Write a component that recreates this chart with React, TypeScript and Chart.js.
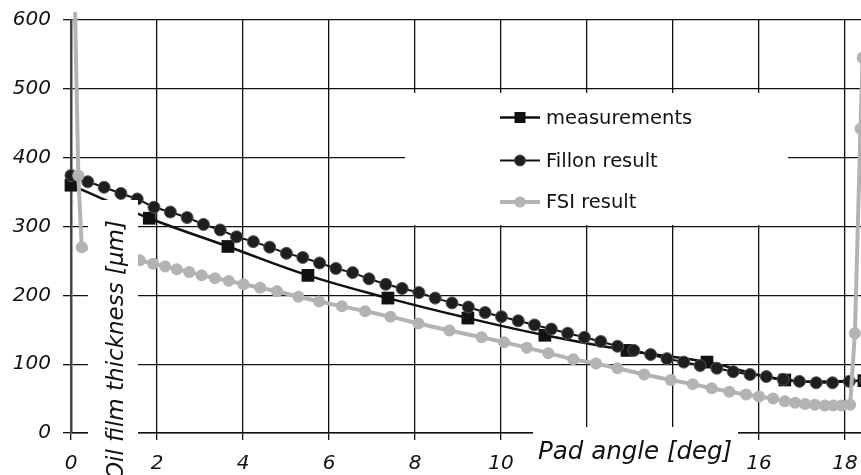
import React, { useEffect, useRef } from 'react';
import { Chart, registerables } from 'chart.js';

Chart.register(...registerables);

// ---- tick labels ----
const xTickValues = [0, 2, 4, 6, 8, 10, 12, 14, 16, 18];
const yTickValues = [0, 100, 200, 300, 400, 500, 600];

// ---- series: measurements ----
const measX = [0, 1.82, 3.65, 5.51, 7.37, 9.23, 11.02, 12.93, 14.79, 16.6, 18.44];
const measY = [360, 312, 271, 229, 196, 167, 142, 120, 103, 77, 76];

// ---- series: Fillon result ----
const fillonX = [
  0, 0.39, 0.77, 1.16, 1.54, 1.93, 2.31, 2.7, 3.08, 3.47, 3.85, 4.24, 4.62, 5.01, 5.39, 5.78,
  6.16, 6.55, 6.93, 7.32, 7.7, 8.09, 8.47, 8.86, 9.24, 9.63, 10.01, 10.4, 10.78, 11.17, 11.55,
  11.94, 12.32, 12.71, 13.09, 13.48, 13.86, 14.25, 14.63, 15.02, 15.4, 15.79, 16.17, 16.56,
  16.94, 17.33, 17.71, 18.1, 18.48,
];
const fillonY = [
  374, 365, 357, 348, 340, 328, 321, 313, 303, 295, 285, 278, 270, 261, 255, 247,
  239, 233, 224, 216, 210, 204, 196, 189, 183, 175, 169, 163, 157, 151, 145,
  139, 133, 126, 120, 114, 108, 103, 98, 94, 89, 85, 82, 78,
  75, 73, 73, 75, 77,
];

// ---- series: FSI result ----
const fsiX = [
  0.02, 0.17, 0.25, 1.6, 1.91, 2.19, 2.46, 2.75, 3.04, 3.35, 3.67, 4.01, 4.4, 4.79, 5.29, 5.77,
  6.3, 6.84, 7.43, 8.08, 8.8, 9.55, 10.07, 10.6, 11.1, 11.68, 12.21, 12.71, 13.33, 13.95,
  14.46, 14.9, 15.31, 15.7, 16.0, 16.33, 16.6, 16.84, 17.07, 17.3, 17.53, 17.73, 17.92,
  18.12, 18.23, 18.36, 18.41,
];
const fsiY = [
  850, 374, 270, 251, 246, 242, 238, 234, 229, 225, 221, 216, 211, 206, 198, 191,
  184, 177, 169, 159, 149, 139, 132, 124, 116, 107, 101, 94, 85, 77,
  71, 65, 60, 56, 53, 50, 46, 44, 42, 41, 40, 40, 40,
  41, 145, 442, 545,
];

const seriesLabels = ['measurements', 'Fillon result', 'FSI result'];
const xTitle = 'Pad angle [deg]';
const yTitle = 'Oil film thickness [µm]';

const toPts = (xs: number[], ys: number[]) => xs.map((x, i) => ({ x, y: ys[i] }));

const FONT = '"DejaVu Sans", Verdana, sans-serif';

const overlayPlugin = {
  id: 'overlay',
  afterDraw(chart: any) {
    const ctx: CanvasRenderingContext2D = chart.ctx;
    ctx.save();
    // white boxes (legend, axis titles)
    ctx.fillStyle = '#ffffff';
    ctx.fillRect(405, 93, 383, 132);
    ctx.fillRect(88, 200, 50, 280);
    ctx.fillRect(533, 427, 205, 50);

    // legend
    const rowsY = [117.5, 160.5, 202];
    const ds = chart.data.datasets;
    rowsY.forEach((y, i) => {
      const d = ds[i];
      ctx.strokeStyle = d.borderColor;
      ctx.lineWidth = d.borderWidth;
      ctx.beginPath();
      ctx.moveTo(500, y);
      ctx.lineTo(540, y);
      ctx.stroke();
      ctx.fillStyle = d.pointBackgroundColor;
      if (d.pointStyle === 'rect') {
        ctx.fillRect(520 - 5.5, y - 5.5, 11, 11);
      } else {
        ctx.beginPath();
        ctx.arc(520, y, 5.5, 0, Math.PI * 2);
        ctx.fill();
        if (d.pointBorderWidth) {
          ctx.strokeStyle = d.pointBorderColor;
          ctx.lineWidth = d.pointBorderWidth;
          ctx.stroke();
        }
      }
      ctx.fillStyle = '#111';
      ctx.font = `19.5px ${FONT}`;
      ctx.textAlign = 'left';
      ctx.textBaseline = 'middle';
      ctx.fillText(d.label, 546, y + 1);
    });

    // x axis title
    ctx.fillStyle = '#111';
    ctx.font = `italic 24.5px ${FONT}`;
    ctx.textAlign = 'left';
    ctx.textBaseline = 'alphabetic';
    ctx.fillText(xTitle, 538, 459);

    // y axis title
    ctx.save();
    ctx.translate(123, 220);
    ctx.rotate(-Math.PI / 2);
    ctx.font = `italic 23px ${FONT}`;
    ctx.textAlign = 'right';
    ctx.textBaseline = 'alphabetic';
    ctx.fillText(yTitle, 0, 0);
    ctx.restore();

    ctx.restore();
  },
};

export default function App() {
  const canvasRef = useRef<HTMLCanvasElement | null>(null);

  useEffect(() => {
    if (!canvasRef.current) return;
    const clip = { left: 15, top: 8, right: 0, bottom: 15 };
    const chart = new Chart(canvasRef.current, {
      type: 'scatter',
      data: {
        datasets: [
          {
            label: seriesLabels[0],
            data: toPts(measX, measY),
            showLine: true,
            tension: 0.4,
            borderColor: '#111111',
            borderWidth: 2.5,
            pointStyle: 'rect',
            pointRadius: 9,
            pointBackgroundColor: '#111111',
            pointBorderWidth: 0,
            pointBorderColor: '#111111',
            order: 3,
            clip,
          } as any,
          {
            label: seriesLabels[1],
            data: toPts(fillonX, fillonY),
            showLine: true,
            tension: 0,
            borderColor: '#111111',
            borderWidth: 2,
            pointStyle: 'circle',
            pointRadius: 6,
            pointBackgroundColor: '#1e1e1e',
            pointBorderColor: '#555555',
            pointBorderWidth: 1,
            order: 2,
            clip,
          } as any,
          {
            label: seriesLabels[2],
            data: toPts(fsiX, fsiY),
            showLine: true,
            tension: 0,
            borderColor: '#b3b3b3',
            borderWidth: 4,
            pointStyle: 'circle',
            pointRadius: 6,
            pointBackgroundColor: '#b3b3b3',
            pointBorderColor: '#b3b3b3',
            pointBorderWidth: 0,
            order: 1,
            clip,
          } as any,
        ],
      },
      options: {
        animation: false,
        responsive: true,
        maintainAspectRatio: false,
        layout: { autoPadding: false, padding: { top: 20, right: 0, left: 0, bottom: 0 } },
        plugins: {
          legend: { display: false },
          tooltip: { enabled: false },
        },
        scales: {
          x: {
            type: 'linear',
            min: 0,
            max: 18.372,
            afterBuildTicks: (axis: any) => {
              axis.ticks = xTickValues.map((v) => ({ value: v }));
            },
            afterFit: (axis: any) => {
              axis.height = 42;
              axis.paddingLeft = 0;
              axis.paddingRight = 0;
            },
            grid: { color: '#111111', lineWidth: 1.3, tickLength: 7, drawTicks: true },
            border: { color: '#111111', width: 1.5 },
            ticks: {
              color: '#111111',
              padding: 12,
              maxRotation: 0,
              autoSkip: false,
              font: { family: FONT, size: 20, style: 'italic' },
            },
          },
          y: {
            type: 'linear',
            min: 0,
            max: 600,
            afterBuildTicks: (axis: any) => {
              axis.ticks = yTickValues.map((v) => ({ value: v }));
            },
            afterFit: (axis: any) => {
              axis.width = 71;
              axis.paddingTop = 0;
              axis.paddingBottom = 0;
            },
            grid: { color: '#111111', lineWidth: 1.3, tickLength: 8, drawTicks: true },
            border: { color: '#444444', width: 2.5 },
            ticks: {
              color: '#111111',
              padding: 12,
              autoSkip: false,
              font: { family: FONT, size: 20, style: 'italic' },
            },
          },
        },
      } as any,
      plugins: [overlayPlugin],
    });
    return () => chart.destroy();
  }, []);

  return (
    <div
      style={{
        position: 'absolute',
        left: 0,
        top: 0,
        width: 861,
        height: 475,
        background: '#ffffff',
      }}
    >
      <canvas ref={canvasRef} />
    </div>
  );
}
